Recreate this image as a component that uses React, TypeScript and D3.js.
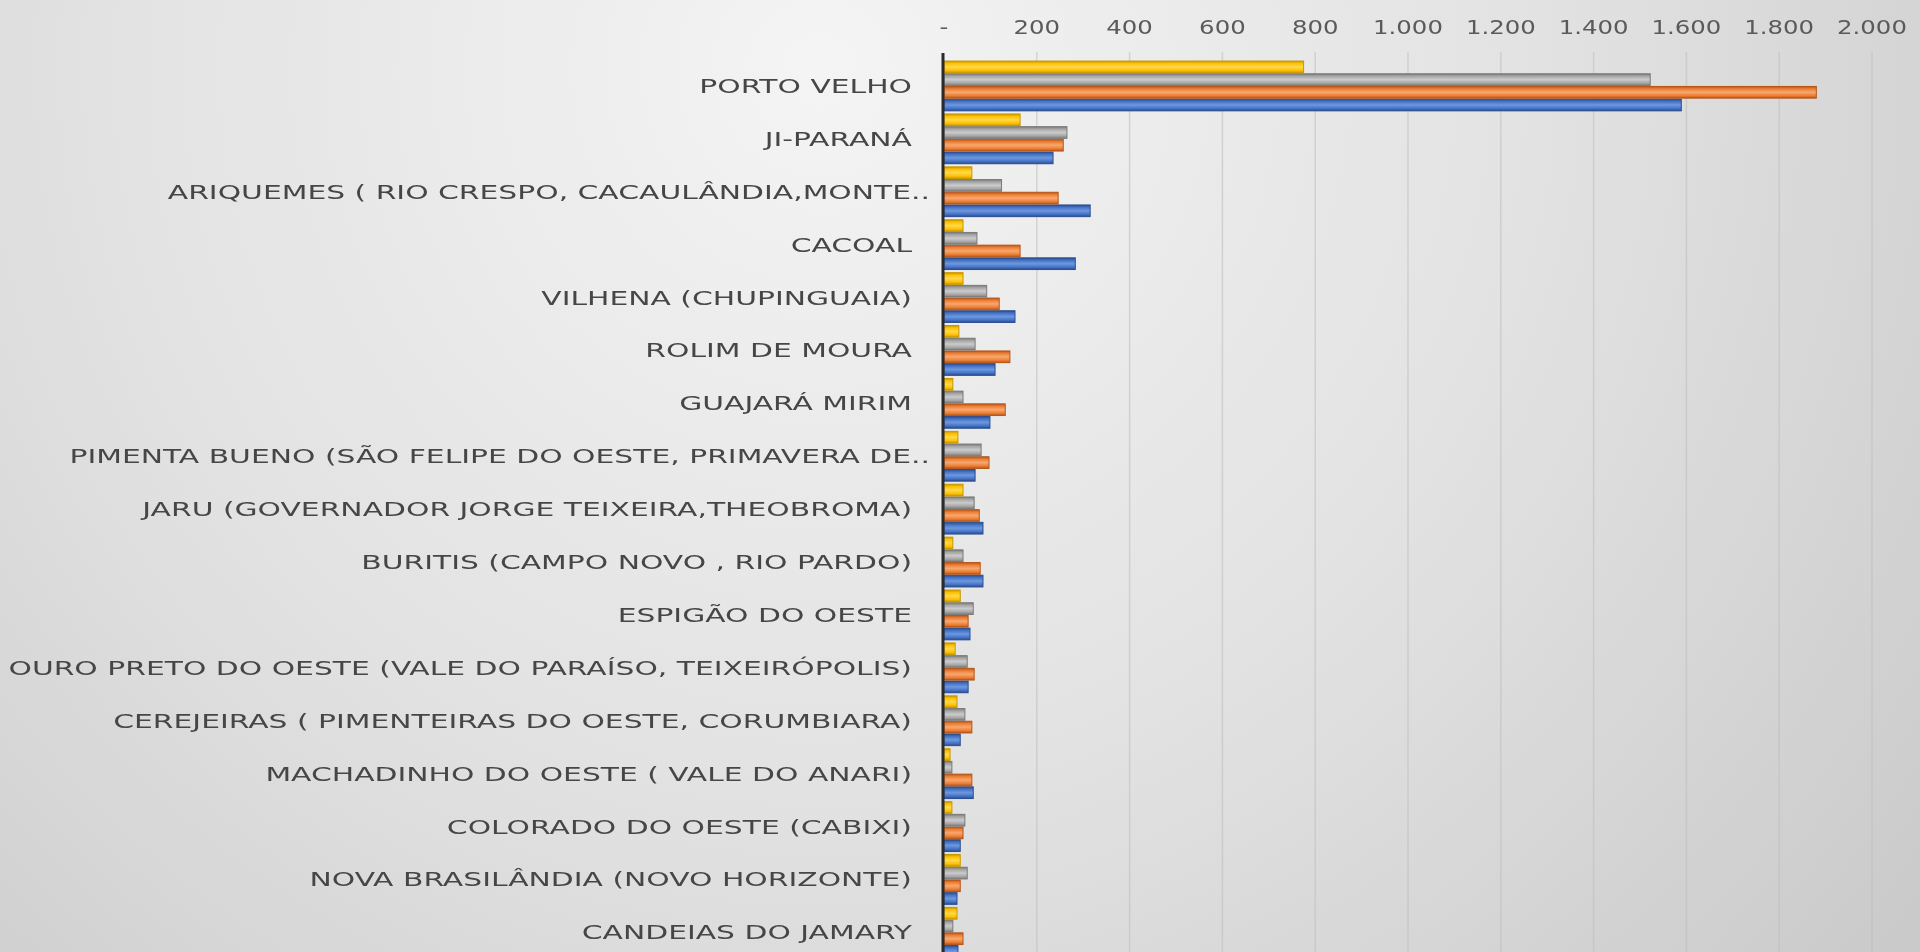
import React from "react";
import * as d3 from "d3";

// ---------- DATA ----------
const categories = [
  "PORTO VELHO",
  "JI-PARANÁ",
  "ARIQUEMES ( RIO CRESPO, CACAULÂNDIA,MONTE..",
  "CACOAL",
  "VILHENA (CHUPINGUAIA)",
  "ROLIM DE MOURA",
  "GUAJARÁ MIRIM",
  "PIMENTA BUENO (SÃO FELIPE DO OESTE, PRIMAVERA DE..",
  "JARU (GOVERNADOR JORGE TEIXEIRA,THEOBROMA)",
  "BURITIS (CAMPO NOVO , RIO PARDO)",
  "ESPIGÃO DO OESTE",
  "OURO PRETO DO OESTE (VALE DO PARAÍSO, TEIXEIRÓPOLIS)",
  "CEREJEIRAS ( PIMENTEIRAS DO OESTE, CORUMBIARA)",
  "MACHADINHO DO OESTE ( VALE DO ANARI)",
  "COLORADO DO OESTE (CABIXI)",
  "NOVA BRASILÂNDIA (NOVO HORIZONTE)",
  "CANDEIAS DO JAMARY",
];

// series 1 (blue, bottom of each group) .. series 4 (yellow, top)
const serie1 = [1589, 235, 315, 283, 153, 110, 99, 67, 84, 84, 56, 52, 35, 63, 35, 28, 30];
const serie2 = [1880, 257, 246, 164, 119, 142, 132, 97, 76, 78, 52, 65, 60, 60, 41, 35, 41];
const serie3 = [1522, 265, 124, 71, 92, 67, 41, 80, 65, 41, 63, 50, 45, 17, 45, 50, 19];
const serie4 = [775, 164, 60, 41, 41, 32, 19, 30, 41, 19, 35, 24, 28, 13, 17, 35, 28];

const seriesNames = ["Série 1", "Série 2", "Série 3", "Série 4"];
const xTicks = [0, 200, 400, 600, 800, 1000, 1200, 1400, 1600, 1800, 2000];

// ---------- STYLE ----------
const W = 1920;
const H = 952;
const seriesStyle: Record<string, { dark: string; base: string; light: string }> = {
  "Série 1": { dark: "#2a4d8f", base: "#4472c4", light: "#6d98e0" },
  "Série 2": { dark: "#b4561a", base: "#ed7d31", light: "#f6a871" },
  "Série 3": { dark: "#7a7a7a", base: "#a5a5a5", light: "#cbcbcb" },
  "Série 4": { dark: "#c79600", base: "#ffc000", light: "#ffd94d" },
};

const locale = d3.formatLocale({
  decimal: ",",
  thousands: ".",
  grouping: [3],
  currency: ["R$", ""],
});
const fmt = locale.format(",d");
const LABEL_SX = 1.49;
const TICK_SX = 1.22;

export default function App() {
  const data = [serie1, serie2, serie3, serie4];
  const x = d3.scaleLinear().domain([0, 2000]).range([944, 1872]);
  const step = 52.9;
  const y = d3
    .scaleBand<string>()
    .domain(categories)
    .range([59.5, 59.5 + categories.length * step])
    .paddingInner(0.04)
    .paddingOuter(0.02);
  // top to bottom within a group: series 4, 3, 2, 1
  const inner = d3
    .scaleBand<string>()
    .domain([...seriesNames].reverse())
    .range([0, y.bandwidth()])
    .padding(0);

  const labelRight = 912;
  const truncOverhang = 18;

  return (
    <svg
      width={W}
      height={H}
      style={{ position: "fixed", left: 0, top: 0, display: "block" }}
      fontFamily="'DejaVu Sans', sans-serif"
    >
      <defs>
        <radialGradient id="bg" gradientUnits="userSpaceOnUse" cx={820} cy={70} r={1450}>
          <stop offset="0" stopColor="#f4f4f4" />
          <stop offset="0.5" stopColor="#e2e2e2" />
          <stop offset="1" stopColor="#c8c8c8" />
        </radialGradient>
        {seriesNames.map((s) => (
          <linearGradient key={s} id={`g-${s.replace(/\W/g, "")}`} x1="0" y1="0" x2="0" y2="1">
            <stop offset="0" stopColor={seriesStyle[s].dark} />
            <stop offset="0.2" stopColor={seriesStyle[s].base} />
            <stop offset="0.5" stopColor={seriesStyle[s].light} />
            <stop offset="0.8" stopColor={seriesStyle[s].base} />
            <stop offset="1" stopColor={seriesStyle[s].dark} />
          </linearGradient>
        ))}
      </defs>
      <rect x={0} y={0} width={W} height={H} fill="url(#bg)" />

      {/* gridlines */}
      {xTicks
        .filter((t) => t > 0)
        .map((t) => (
          <line
            key={`g${t}`}
            x1={x(t)}
            x2={x(t)}
            y1={52}
            y2={H}
            stroke="#bdbdbd"
            strokeOpacity={0.55}
            strokeWidth={1.5}
          />
        ))}

      {/* tick labels */}
      {xTicks.map((t) => (
        <text
          key={`t${t}`}
          transform={`translate(${x(t)},${34}) scale(${TICK_SX},1)`}
          textAnchor="middle"
          fontSize={20}
          fill="#5a5a5a"
        >
          {t === 0 ? "-" : fmt(t)}
        </text>
      ))}

      {/* bars */}
      {categories.map((c, i) => (
        <g key={c} transform={`translate(0,${y(c)})`}>
          {seriesNames.map((s, k) => {
            const v = data[k][i];
            return (
              <rect
                key={s}
                x={x(0)}
                y={inner(s)! + 0.5}
                width={Math.max(0, x(v) - x(0))}
                height={inner.bandwidth() - 1}
                fill={`url(#g-${s.replace(/\W/g, "")})`}
                stroke={seriesStyle[s].dark}
                strokeWidth={1}
              />
            );
          })}
        </g>
      ))}

      {/* category labels */}
      {categories.map((c) => {
        const truncated = c.endsWith("..");
        const lx = labelRight + (truncated ? truncOverhang : 0);
        return (
          <text
            key={`l${c}`}
            transform={`translate(${lx},${y(c)! + y.bandwidth() / 2 + 7}) scale(${LABEL_SX},1)`}
            textAnchor="end"
            fontSize={20}
            fill="#464646"
          >
            {c}
          </text>
        );
      })}

      {/* vertical axis line */}
      <line x1={x(0) - 1} x2={x(0) - 1} y1={53} y2={H} stroke="#2b2b2b" strokeWidth={3} />
    </svg>
  );
}
